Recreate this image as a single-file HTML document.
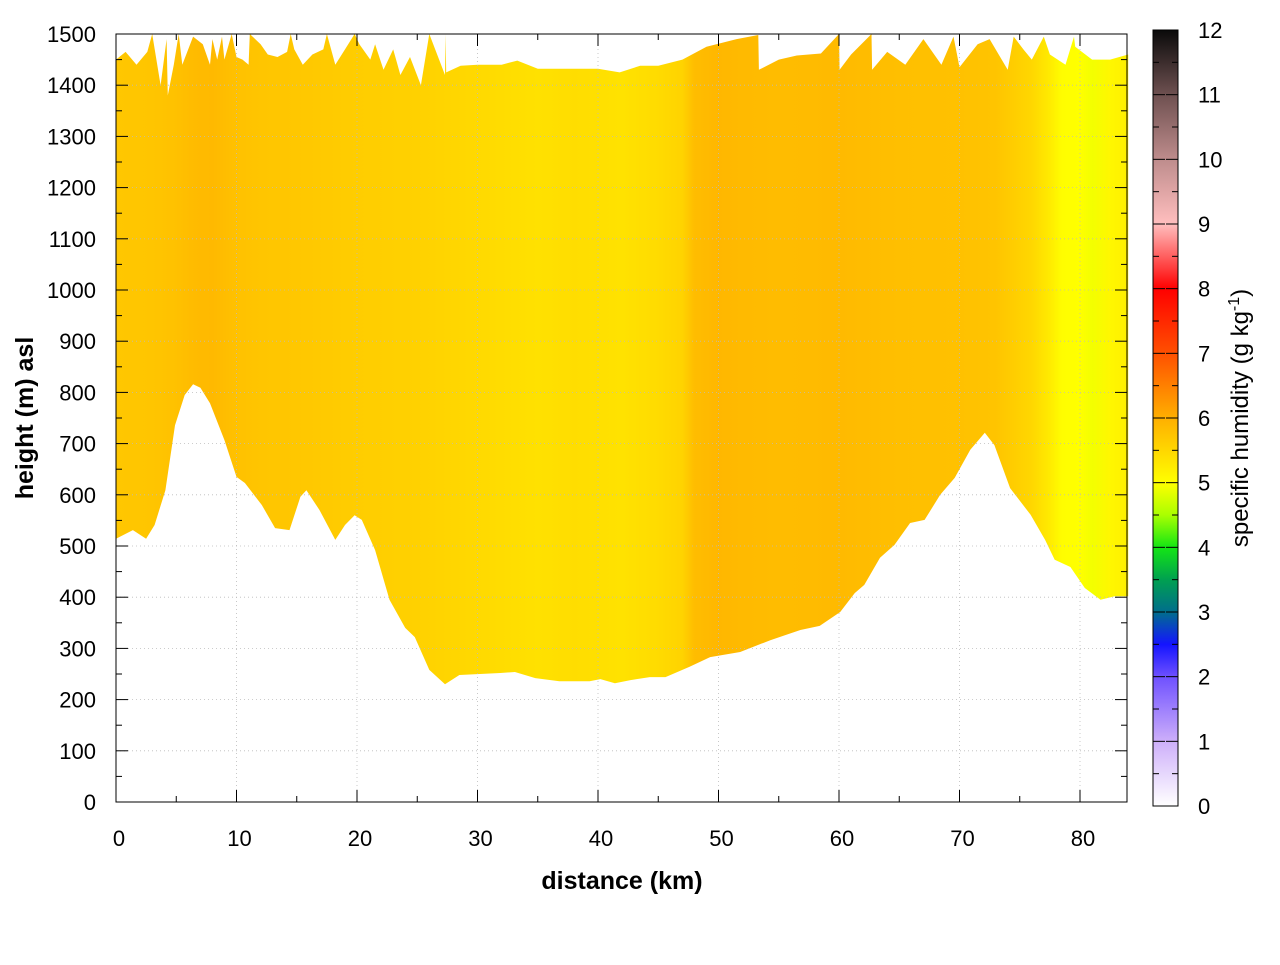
<!DOCTYPE html>
<html><head><meta charset="utf-8"><style>
body{margin:0;background:#fff;}
svg text{font-family:"Liberation Sans",Arial,sans-serif;}
</style></head><body>
<svg id="chart" width="1280" height="960" xmlns="http://www.w3.org/2000/svg">
<defs id="defs"></defs>
<g id="plot"></g>
</svg>
<script>
// terrain (bottom of data) : distance km, height m
const groundKm=[0,1.4,2.5,3.2,4.1,4.9,5.7,6.4,7,7.8,9,10,10.7,12.1,13.2,14.4,15.3,15.8,16.9,18.2,19,19.8,20.4,21.5,22.7,24,24.8,26,27.3,28.5,30.2,31.9,33.1,34.8,36.8,39.3,40.2,41.4,42.7,44.3,45.6,47.6,49.3,51.8,54.3,56.8,58.4,60.1,61.3,62.1,63.4,64.6,65.9,67.1,68.4,69.6,70.9,72.1,72.9,74.2,75.9,77.1,77.9,79.2,80.4,81.7,82.9,84];
const groundM=[514,531,514,541,609,736,795,816,809,779,707,635,623,580,535,531,596,609,570,512,541,560,551,492,395,340,322,258,230,248,250,252,254,242,236,236,240,232,238,244,244,264,283,293,316,336,344,371,408,424,477,502,545,551,600,633,688,721,697,613,561,512,473,459,418,395,402,402];
// top of data
const topKm=[0,0.8,1.7,2.6,3,3.7,4.2,4.3,4.8,5.2,5.5,6.4,7.2,7.8,8,8.4,8.8,9,9.6,10,10.5,11,11.1,12,12.6,13.4,14.2,14.5,14.8,15.5,16.3,17.2,17.5,18.2,19,19.8,20.2,21.1,21.5,22.2,23,23.6,24.4,25.3,26,27.3,27.35,27.4,28.6,30,32,33.3,35,37,40,41.8,43.5,45,47,49,51.5,53.3,53.35,55,56.5,58.5,60,60.05,61,62.7,62.75,64,65.5,67,68.5,69.5,70,71.5,72.5,74,74.5,75.3,76,77,77.5,78.8,79.5,79.6,81,82.5,84];
const topM=[1450,1465,1440,1465,1500,1400,1490,1380,1440,1500,1440,1495,1480,1440,1490,1450,1495,1450,1500,1455,1450,1440,1500,1480,1460,1455,1465,1500,1470,1440,1460,1470,1500,1440,1470,1500,1480,1450,1480,1430,1470,1420,1455,1400,1500,1420,1500,1425,1438,1440,1440,1448,1432,1432,1432,1425,1438,1438,1450,1475,1490,1498,1430,1450,1458,1462,1500,1430,1460,1500,1430,1465,1440,1490,1440,1495,1435,1480,1490,1430,1495,1470,1450,1495,1460,1440,1495,1475,1450,1450,1460];
// column humidity (g/kg)
const colKm=[0,3,5,6.5,8,10,12,15,20,25,30,35,38,42,45,47,48,50,52,55,60,65,70,73,76,77.5,78.5,80,81,82.5,84];
const colQ=[5.7,5.72,5.78,5.85,5.87,5.78,5.72,5.7,5.63,5.58,5.48,5.38,5.42,5.36,5.45,5.55,5.82,5.9,5.86,5.84,5.86,5.8,5.78,5.74,5.5,5.25,5.02,5.0,4.93,5.1,5.2];
const cbTicks=[0,1,2,3,4,5,6,7,8,9,10,11,12];
const xTicks=[0,10,20,30,40,50,60,70,80];
const yTicks=[0,100,200,300,400,500,600,700,800,900,1000,1100,1200,1300,1400,1500];

const X0=116,X1=1127,Y0=802,Y1=34;
const xs=k=>X0+k*12.05;
const ys=m=>Y0-m*(Y0-Y1)/1500;
const cmap=[[0,[255,255,255]],[1,[205,175,250]],[2,[110,80,255]],[2.5,[20,20,255]],[3,[0,110,140]],[3.5,[0,160,80]],[4,[20,230,20]],[4.5,[170,255,0]],[5,[255,255,0]],[6,[255,175,0]],[7,[255,80,0]],[8,[255,0,0]],[9,[255,190,190]],[10,[190,140,140]],[11,[110,80,80]],[12,[10,10,10]]];
function col(q){for(let i=0;i<cmap.length-1;i++){const[a,ca]=cmap[i],[b,cb]=cmap[i+1];if(q<=b){const t=Math.max(0,(q-a)/(b-a));return 'rgb('+ca.map((v,j)=>Math.round(v+(cb[j]-v)*t)).join(',')+')';}}return 'rgb(10,10,10)';}
const NS='http://www.w3.org/2000/svg';
const svg=document.getElementById('chart'),defs=document.getElementById('defs'),g=document.getElementById('plot');
function mk(t,a,p){const e=document.createElementNS(NS,t);for(const k in a)e.setAttribute(k,a[k]);(p||g).appendChild(e);return e;}
// gradient
const lg=mk('linearGradient',{id:'hg',gradientUnits:'userSpaceOnUse',x1:xs(0),x2:xs(84),y1:0,y2:0},defs);
colKm.forEach((k,i)=>mk('stop',{offset:(k/84).toFixed(4),'stop-color':col(colQ[i])},lg));
const cg=mk('linearGradient',{id:'cg',x1:0,x2:0,y1:1,y2:0},defs);
for(let q=0;q<=12;q+=0.25)mk('stop',{offset:(q/12).toFixed(4),'stop-color':col(q)},cg);
// area
let d='M'+topKm.map((k,i)=>xs(k).toFixed(1)+','+ys(topM[i]).toFixed(1)).join('L');
for(let i=groundKm.length-1;i>=0;i--)d+='L'+xs(groundKm[i]).toFixed(1)+','+ys(groundM[i]).toFixed(1);
const area=mk('path',{d:d+'Z',fill:'url(#hg)'});


// grid
xTicks.forEach(v=>{if(v>0){const l=mk('line',{x1:xs(v),x2:xs(v),y1:Y0,y2:Y1,stroke:'#bbb','stroke-width':0.8,'stroke-dasharray':'1,3'});}});
yTicks.forEach(v=>{if(v>0&&v<1500){const l=mk('line',{x1:X0,x2:X1,y1:ys(v),y2:ys(v),stroke:'#bbb','stroke-width':0.8,'stroke-dasharray':'1,3'});}});
// frame
const fr=mk('rect',{x:X0,y:Y1,width:X1-X0,height:Y0-Y1,fill:'none',stroke:'#000','stroke-width':1});


// ticks
for(let v=0;v<=84;v+=5){const L=v%10?6:12;mk('line',{x1:xs(v),x2:xs(v),y1:Y0,y2:Y0-L,stroke:'#000'});mk('line',{x1:xs(v),x2:xs(v),y1:Y1,y2:Y1+L,stroke:'#000'});}
for(let v=0;v<=1500;v+=50){const L=v%100?6:12;mk('line',{x1:X0,x2:X0+L,y1:ys(v),y2:ys(v),stroke:'#000'});mk('line',{x1:X1,x2:X1-L,y1:ys(v),y2:ys(v),stroke:'#000'});}
xTicks.forEach(v=>{const t=mk('text',{x:xs(v)+3,y:846,'font-size':22,'text-anchor':'middle'});t.textContent=v;});
yTicks.forEach(v=>{const t=mk('text',{x:96,y:ys(v)+8,'font-size':22,'text-anchor':'end'});t.textContent=v;});
// axis titles
const xt=mk('text',{x:622,y:889,'font-size':25,'font-weight':'bold','text-anchor':'middle'});xt.textContent='distance (km)';


const yt=mk('text',{x:0,y:0,'font-size':25,'font-weight':'bold','text-anchor':'middle',transform:'translate(33,418) rotate(-90)'});yt.textContent='height (m) asl';


// colorbar
const CX=1153,CW=25,CT=30,CB=806;
const cb=mk('rect',{x:CX,y:CT,width:CW,height:CB-CT,fill:'url(#cg)',stroke:'#000','stroke-width':1});


const cy=q=>CB-q*(CB-CT)/12;
for(let q=0.5;q<12;q+=0.5){const L=q%1?6:12;mk('line',{x1:CX,x2:CX+L,y1:cy(q),y2:cy(q),stroke:'#000'});mk('line',{x1:CX+CW,x2:CX+CW-L,y1:cy(q),y2:cy(q),stroke:'#000'});}
cbTicks.forEach(q=>{const t=mk('text',{x:1198,y:cy(q)+8,'font-size':22});t.textContent=q;});
const ct=mk('text',{x:0,y:0,'font-size':24,'text-anchor':'middle',transform:'translate(1248,418) rotate(-90)'});


ct.innerHTML='specific humidity (g kg<tspan dy="-9" font-size="16">-1</tspan><tspan dy="9">)</tspan>';
</script>
</body></html>
